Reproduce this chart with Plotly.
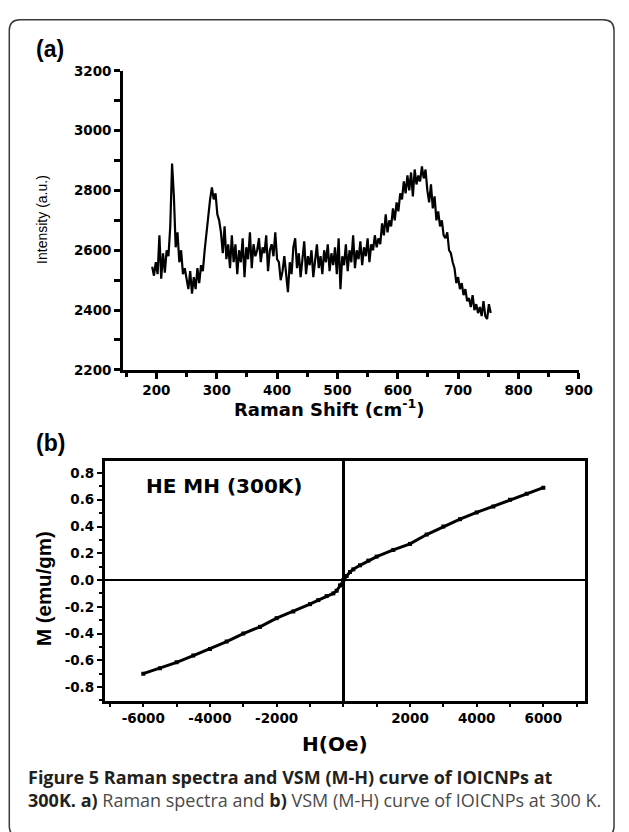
import plotly.graph_objects as go

W, H = 629, 832

# ---------- Panel (a): Raman spectrum ----------
raman_shift = list(range(193, 755, 3))
raman_intensity = [
    2545, 2515, 2560, 2520, 2650, 2505, 2590, 2525, 2600, 2580,
    2680, 2890, 2780, 2610, 2660, 2560, 2600, 2520, 2540, 2500,
    2470, 2530, 2455, 2510, 2470, 2540, 2490, 2550, 2530, 2600,
    2660, 2730, 2770, 2810, 2770, 2790, 2720, 2700, 2660, 2590,
    2680, 2570, 2620, 2540, 2650, 2560, 2620, 2520, 2600, 2560,
    2640, 2510, 2610, 2570, 2660, 2540, 2620, 2580, 2600, 2640,
    2560, 2610, 2590, 2650, 2530, 2600, 2620, 2580, 2660, 2570,
    2560, 2500, 2530, 2580, 2510, 2460, 2560, 2520, 2610, 2640,
    2540, 2590, 2510, 2570, 2630, 2520, 2580, 2550, 2600, 2510,
    2570, 2620, 2540, 2580, 2520, 2600, 2560, 2620, 2530, 2590,
    2550, 2610, 2520, 2640, 2470, 2580, 2550, 2620, 2530, 2600,
    2560, 2650, 2540, 2600, 2570, 2630, 2550, 2610, 2580, 2640,
    2560, 2620, 2600, 2650, 2610, 2640, 2620, 2690, 2650, 2720,
    2660, 2700, 2680, 2740, 2700, 2760, 2730, 2790, 2770, 2830,
    2790, 2850, 2800, 2860, 2780, 2870, 2820, 2850, 2830, 2880,
    2840, 2870, 2800, 2760, 2820, 2740, 2780, 2700, 2730, 2680,
    2700, 2650, 2640, 2660, 2600, 2590, 2560, 2540, 2490, 2510,
    2470, 2490, 2450, 2470, 2430, 2440, 2410, 2450, 2400, 2420,
    2390, 2410, 2380, 2430, 2380, 2370, 2420, 2390,
]
raman_xticks = [200, 300, 400, 500, 600, 700, 800, 900]
raman_yticks = [2200, 2400, 2600, 2800, 3000, 3200]

# ---------- Panel (b): M-H curve ----------
field_oe = [-6000, -5500, -5000, -4500, -4000, -3500, -3000, -2500, -2000, -1500,
            -1000, -750, -500, -300, -200, -100, 0, 100, 200, 300, 500, 750,
            1000, 1500, 2000, 2500, 3000, 3500, 4000, 4500, 5000, 5500, 6000]
magnetization = [-0.70, -0.66, -0.615, -0.565, -0.515, -0.46, -0.40, -0.35, -0.285, -0.235,
                 -0.18, -0.15, -0.12, -0.10, -0.08, -0.04, 0.0, 0.03, 0.06, 0.08, 0.11, 0.145,
                 0.175, 0.225, 0.27, 0.34, 0.40, 0.455, 0.505, 0.55, 0.60, 0.645, 0.69]
mh_xticks = [-6000, -4000, -2000, 2000, 4000, 6000]
mh_xticktext = ["-6000", "-4000", "-2000", "2000", "4000", "6000"]
mh_yticks = [-0.8, -0.6, -0.4, -0.2, 0.0, 0.2, 0.4, 0.6, 0.8]
mh_yticktext = ["-0.8", "-0.6", "-0.4", "-0.2", "0.0", "0.2", "0.4", "0.6", "0.8"]


def px_x(p):
    return p / W


def px_y(p):
    return 1 - p / H


tickfont_a = dict(family="DejaVu Sans", size=13.5, color="black", weight="bold")
tickfont_b = dict(family="DejaVu Sans", size=13.5, color="black", weight="bold")

fig = go.Figure()
fig.add_trace(go.Scatter(x=raman_shift, y=raman_intensity, mode="lines",
                         line=dict(color="black", width=2.2),
                         xaxis="x", yaxis="y", showlegend=False))
fig.add_trace(go.Scatter(x=field_oe, y=magnetization, mode="lines+markers",
                         line=dict(color="black", width=3),
                         marker=dict(color="black", size=4, symbol="square"),
                         xaxis="x2", yaxis="y2", showlegend=False))

fig.update_layout(
    width=W, height=H, margin=dict(l=0, r=0, t=0, b=0),
    paper_bgcolor="white", plot_bgcolor="white", showlegend=False,
    xaxis=dict(domain=[px_x(126), px_x(592)], range=[145, 900], anchor="y",
               showline=True, linewidth=3, linecolor="black", showgrid=False, zeroline=False,
               ticks="outside", ticklen=6, tickwidth=2.5, tickcolor="black",
               tickvals=raman_xticks, tickfont=tickfont_a,
               minor=dict(ticks="outside", ticklen=4, tickwidth=2.5, tickcolor="black", dtick=50)),
    yaxis=dict(domain=[px_y(369), px_y(64)], range=[2200, 3200], anchor="x",
               showline=True, linewidth=3, linecolor="black", showgrid=False, zeroline=False,
               ticks="outside", ticklen=6, tickwidth=2.5, tickcolor="black",
               tickvals=raman_yticks, tickfont=tickfont_a,
               minor=dict(ticks="outside", ticklen=6, tickwidth=2.5, tickcolor="black", dtick=100)),
    xaxis2=dict(domain=[px_x(107), px_x(598)], range=[-7160, 7240], anchor="y2",
                showline=True, mirror=True, linewidth=2.5, linecolor="black", showgrid=False,
                zeroline=True, zerolinewidth=3, zerolinecolor="black",
                ticks="outside", ticklen=3, tickwidth=2, tickcolor="black",
                tickvals=mh_xticks, ticktext=mh_xticktext, tickfont=tickfont_b,
                minor=dict(ticks="outside", ticklen=3, tickwidth=2, tickcolor="black", dtick=1000)),
    yaxis2=dict(domain=[px_y(706.7), px_y(461.7)], range=[-0.905, 0.891], anchor="x2",
                showline=True, mirror=True, linewidth=2.5, linecolor="black", showgrid=False,
                zeroline=True, zerolinewidth=1.5, zerolinecolor="black",
                ticks="outside", ticklen=5, tickwidth=2, tickcolor="black",
                tickvals=mh_yticks, ticktext=mh_yticktext, tickfont=tickfont_b,
                minor=dict(ticks="outside", ticklen=3, tickwidth=2, tickcolor="black", dtick=0.1)),
)

# Rounded frame
x0, x1, y0, y1 = 9.5, 628, 12, 845
r = 11
path = (f"M {px_x(x0)},{px_y(y0 + r)} "
        f"Q {px_x(x0)},{px_y(y0)} {px_x(x0 + r)},{px_y(y0)} "
        f"L {px_x(x1 - r)},{px_y(y0)} "
        f"Q {px_x(x1)},{px_y(y0)} {px_x(x1)},{px_y(y0 + r)} "
        f"L {px_x(x1)},{px_y(y1 - r)} "
        f"Q {px_x(x1)},{px_y(y1)} {px_x(x1 - r)},{px_y(y1)} "
        f"L {px_x(x0 + r)},{px_y(y1)} "
        f"Q {px_x(x0)},{px_y(y1)} {px_x(x0)},{px_y(y1 - r)} Z")
fig.add_shape(type="path", path=path, xref="paper", yref="paper",
              line=dict(color="#3a3a3a", width=1.5), layer="below")


def ann(text, x, y, size, family="Liberation Sans", weight="bold", angle=0,
        xanchor="center", color="black", align="center"):
    fig.add_annotation(text=text, x=px_x(x), y=px_y(y), xref="paper", yref="paper",
                       showarrow=False, textangle=angle, xanchor=xanchor, yanchor="middle",
                       align=align,
                       font=dict(family=family, size=size, color=color, weight=weight))


ann("(a)", 51, 42, 23)
ann("(b)", 51.5, 444, 23)
ann("Intensity (a.u.)", 43, 216, 14, weight="normal", angle=-90)
ann("Raman Shift (cm<sup>-1</sup>)", 336.5, 408, 18, family="DejaVu Sans")
ann("HE MH (300K)", 147, 487, 20, family="DejaVu Sans", xanchor="left")
ann("M (emu/gm)", 44.5, 592, 20.5, angle=-90)
ann("H(Oe)", 342.5, 750, 20, family="DejaVu Sans")

cap_bold = "#231f20"
cap_reg = "#4a4a4a"
ann("<b>Figure 5 Raman spectra and VSM (M-H) curve of IOICNPs at</b><br>"
    f"<b>300K. a)</b><span style='color:{cap_reg}'> Raman spectra and </span>"
    f"<b>b)</b><span style='color:{cap_reg}'> VSM (M-H) curve of IOICNPs at 300 K.</span>",
    26.5, 796, 18, family="Open Sans", weight="normal", xanchor="left",
    color=cap_bold, align="left")

fig.write_html("out.html", config={"displayModeBar": False},
               post_script="document.body.style.margin='0';document.body.style.padding='0';")
